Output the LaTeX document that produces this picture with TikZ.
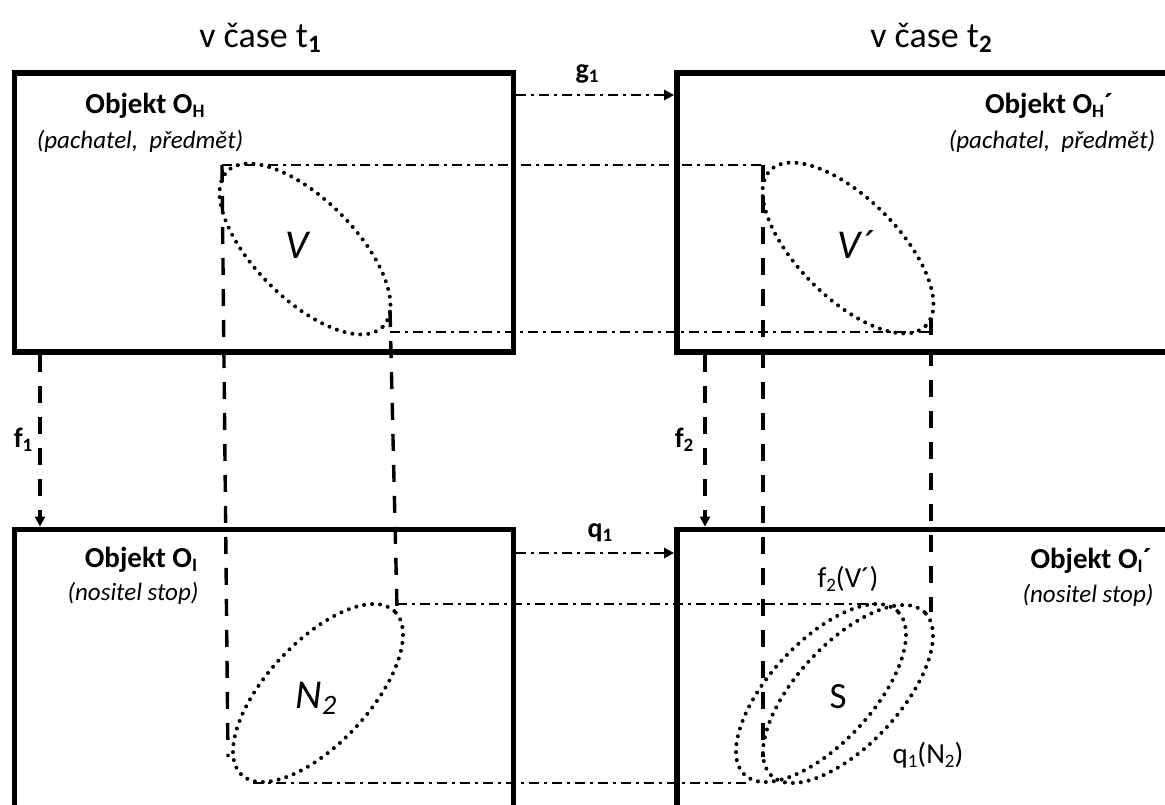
\documentclass[tikz,border=0pt]{standalone}
\usepackage{fontspec}
\setmainfont{Carlito}
\usetikzlibrary{shapes.geometric,arrows.meta}
\newcommand{\fs}[1]{\fontsize{#1}{#1}\selectfont}
\newcommand{\sbs}[2]{\raisebox{-0.16em}{\fontsize{#1}{#1}\selectfont #2}}
\begin{document}
\begin{tikzpicture}[x=1pt,y=-1pt,
  objbox/.style={draw, line width=5.8pt, rectangle, inner sep=0pt},
  dashdot/.style={line width=2.5pt, dash pattern=on 10pt off 5pt on 3pt off 5pt},
  longdash/.style={line width=3.4pt, dash pattern=on 17pt off 14pt},
  dots/.style={draw, ellipse, inner sep=0pt, line width=4pt, line cap=round, dash pattern=on 0pt off 8pt},
  tip/.style={-{Triangle[length=10pt,width=10pt]}},
  lab/.style={anchor=base, inner sep=0pt},
  title/.style={lab, font=\fs{36}},
  objt/.style={lab, font=\fs{29}\bfseries},
  sub/.style={lab, font=\fs{25}\itshape},
  map/.style={lab, font=\fs{28}\bfseries},
  big/.style={lab, font=\fs{41}\itshape}
]
\useasboundingbox (0,0) rectangle (1165,804);
\clip (0,0) rectangle (1165,804);

% boxes
\node[objbox, minimum width=499pt, minimum height=279pt] (TL) at (264,212.5) {};
\node[objbox, minimum width=513pt, minimum height=279pt] (TR) at (933.5,212.5) {};
\node[objbox, minimum width=499pt, minimum height=300pt] (BL) at (264,679.5) {};
\node[objbox, minimum width=513pt, minimum height=300pt] (BR) at (933.5,679.5) {};

% ellipses
\node[dots, minimum width=220pt, minimum height=100pt, rotate=-45] (V) at (305,249) {};
\node[dots, minimum width=220pt, minimum height=100pt, rotate=-45] (Vp) at (848,248) {};
\node[dots, minimum width=224pt, minimum height=102pt, rotate=47] (N) at (318,693) {};
\node[dots, minimum width=224pt, minimum height=102pt, rotate=47] (S1) at (821,693) {};
\node[dots, minimum width=224pt, minimum height=102pt, rotate=47] (S2) at (848,694) {};

% guide coordinates
\coordinate (a1) at (222,165);
\coordinate (a2) at (763,165);
\coordinate (b1) at (390,332);
\coordinate (b2) at (931,332);
\coordinate (c1) at (397,604);
\coordinate (c2) at (880,604);
\coordinate (d1) at (253,783);
\coordinate (d2) at (747,783);
\coordinate (l1) at (228,757);
\coordinate (r1) at (390,310);
\coordinate (r2) at (397,608);
\coordinate (m1) at (763,757);
\coordinate (n1) at (931,318);
\coordinate (n2) at (931,612);

% dash-dot guides
\draw[dashdot] (a1) -- (a2);
\draw[dashdot] (b1) -- (b2);
\draw[dashdot] (c1) -- (c2);
\draw[dashdot] (d1) -- (d2);

% dashed guides
\draw[longdash] (a1) -- (l1);
\draw[longdash] (r1) -- (r2);
\draw[longdash] (a2) -- (m1);
\draw[longdash] (n1) -- (n2);

% mappings
\draw[dashdot, tip] (TL.east |- 0,95) -- (TR.west |- 0,95);
\draw[dashdot, tip] (BL.east |- 0,553) -- (BR.west |- 0,553);
\draw[longdash, tip] (TL.south west -| 40,0) -- (BL.north west -| 40,0);
\draw[longdash, tip] (TR.south west -| 705,0) -- (BR.north west -| 705,0);

% labels
\node[title] (t1) at (260,47) {v čase t\sbs{25}{\bfseries 1}};
\node[title] (t2) at (931,47) {v čase t\sbs{25}{\bfseries 2}};
\node[map] (g1) at (587,78) {g\sbs{19}{1}};
\node[map] (q1) at (600,537) {q\sbs{19}{1}};
\node[map] (f1) at (23,447) {f\sbs{19}{1}};
\node[map] (f2) at (684,447) {f\sbs{19}{2}};

\node[objt] (oh) at (145,113) {Objekt O\sbs{19}{H}};
\node[sub] (ohs) at (140,148) {(pachatel,\ \ předmět)};
\node[objt] (ohp) at (1049,113) {Objekt O\sbs{19}{H}´};
\node[sub] (ohps) at (1052,148) {(pachatel,\ \ předmět)};
\node[objt] (oi) at (141,567) {Objekt O\sbs{19}{I}};
\node[sub] (ois) at (133,600) {(nositel stop)};
\node[objt] (oip) at (1091,568) {Objekt O\sbs{19}{I}´};
\node[sub] (oips) at (1088,602) {(nositel stop)};

\node[big] (vl) at (297,258) {V};
\node[big] (vpl) at (855,258) {V´};
\node[big] (nl) at (316,708) {N\sbs{28}{2}};
\node[lab, font=\fs{37}] (sl) at (838,708) {S};
\node[lab, font=\fs{29}] (f2v) at (848,587) {f\sbs{19}{2}(V´)};
\node[lab, font=\fs{29}] (q1n) at (928,763) {q\sbs{19}{1}(N\sbs{19}{2})};
\end{tikzpicture}
\end{document}
